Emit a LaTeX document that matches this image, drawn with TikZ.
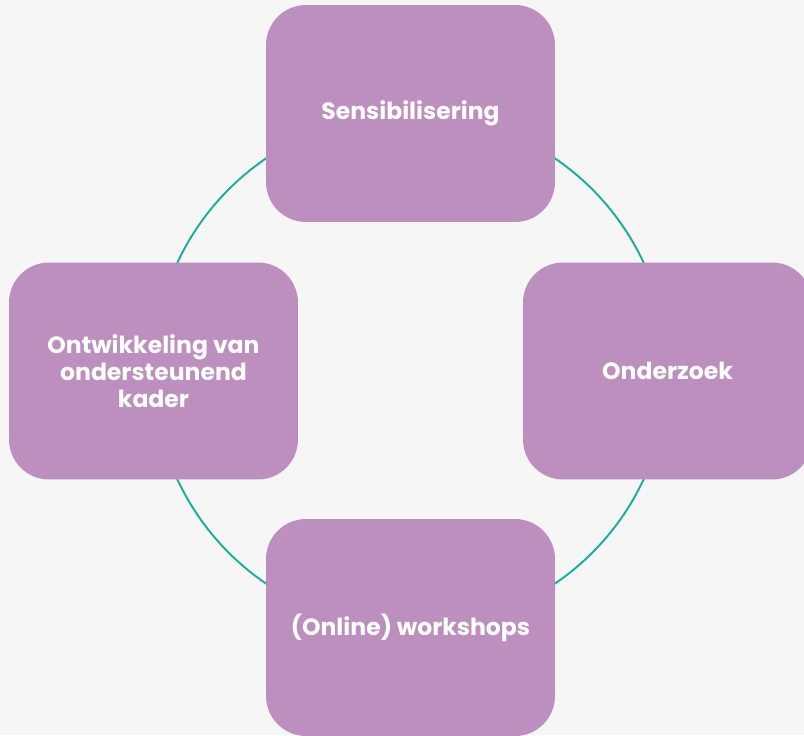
\documentclass[tikz,border=0pt]{standalone}
\usepackage{fontspec}
\setmainfont{Poppins}
\definecolor{bgcol}{RGB}{246,246,246}
\definecolor{boxcol}{RGB}{188,143,190}
\definecolor{ringcol}{RGB}{26,174,159}
\tikzset{phase/.style={draw=none, fill=boxcol, rounded corners=0.8cm,
    minimum width=5.78cm, minimum height=4.34cm, inner sep=0pt,
    text=white, align=center, font=\fontsize{13.4}{15.3}\selectfont\bfseries}}

\begin{document}
\begin{tikzpicture}[x=0.02cm, y=-0.02cm]

\fill[bgcol] (0,0) rectangle (804,735);
\useasboundingbox (0,0) rectangle (804,735);
\clip (0,0) rectangle (804,735);

\coordinate (c) at (410.5,371);

\draw[ringcol, line width=1.1pt] (c) circle (257);

\node[phase] (sens) at (410.5,113.5) {Sensibilisering};
\node[phase] (onderz) at (667.5,371) {Onderzoek};
\node[phase] (works) at (410.5,627.5) {(Online) workshops};
\node[phase] (kader) at (153.5,371) {Ontwikkeling van\\ondersteunend\\kader};

\end{tikzpicture}
\end{document}
